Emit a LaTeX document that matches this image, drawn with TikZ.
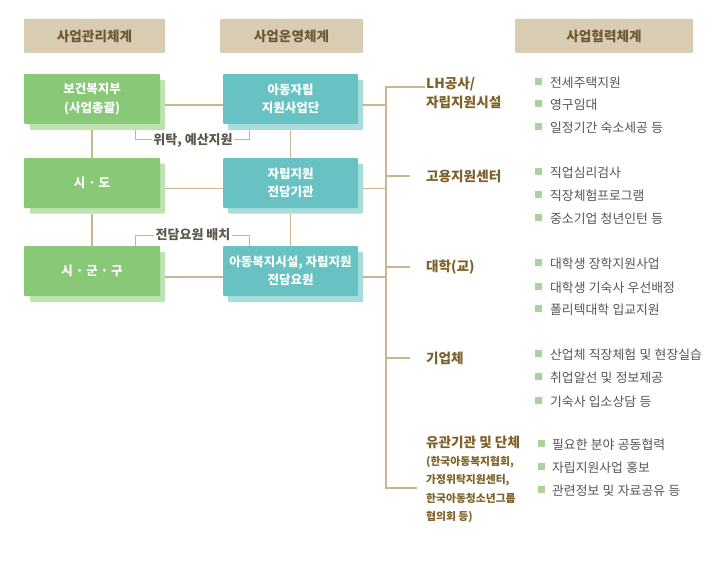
\documentclass[tikz,border=0pt]{standalone}
\usepackage{fontspec}
\setmainfont{Noto Sans CJK KR}
\newfontfamily\itemfont{Noto Sans CJK KR}[WordSpace=1.2]
\definecolor{hdrc}{HTML}{D8CCB3}
\definecolor{hdrtxt}{HTML}{6E5A35}
\definecolor{grf}{HTML}{88C876}
\definecolor{grs}{HTML}{BDE3B0}
\definecolor{tlf}{HTML}{68C2C3}
\definecolor{tls}{HTML}{A8DDDC}
\definecolor{linec}{HTML}{C9B58F}
\definecolor{labc}{HTML}{7D6128}
\definecolor{bulc}{HTML}{A9D39D}
\definecolor{itemc}{HTML}{555555}
\definecolor{brkc}{HTML}{5E584C}
\begin{document}
\begin{tikzpicture}[x=1pt,y=-1pt,
  hdr/.style={fill=hdrc, rounded corners=1pt, inner sep=0pt, minimum height=34pt, text=hdrtxt, font=\bfseries\fontsize{13.6}{15}\selectfont},
  gfront/.style={fill=grf, rounded corners=1pt, inner sep=0pt, minimum width=136pt, minimum height=50pt, text=white, align=center, font=\bfseries\fontsize{12.5}{18.5}\selectfont},
  gshadow/.style={fill=grs, rounded corners=1pt, inner sep=0pt, minimum width=135pt, minimum height=50pt},
  tfront/.style={fill=tlf, rounded corners=1pt, inner sep=0pt, minimum width=135pt, minimum height=50pt, text=white, align=center, font=\bfseries\fontsize{12.5}{18.5}\selectfont},
  tshadow/.style={fill=tls, rounded corners=1pt, inner sep=0pt, minimum width=135pt, minimum height=50pt},
  conn/.style={draw=linec, line width=1.6pt},
  brk/.style={draw=linec, line width=1pt},
  brklab/.style={inner sep=1.5pt, text=brkc, font=\bfseries\fontsize{13}{14}\selectfont},
  lab/.style={anchor=west, inner sep=0pt, text=labc, align=left, font=\bfseries\fontsize{13.6}{19}\selectfont},
  smalllab/.style={anchor=north west, inner sep=0pt, text=labc, align=left, font=\bfseries\fontsize{10.8}{18.5}\selectfont},
  bul/.style={fill=bulc, inner sep=0pt, minimum size=7pt},
  item/.style={anchor=west, inner sep=0pt, text=itemc, font=\itemfont\fontsize{12.8}{14}\selectfont}
]
\useasboundingbox (0,0) rectangle (720,575);
\fill[white] (0,0) rectangle (720,575);

% headers
\node[hdr, minimum width=141pt] (h1) at (94.5,36) {사업관리체계};
\node[hdr, minimum width=143pt] (h2) at (291.5,36) {사업운영체계};
\node[hdr, minimum width=178pt] (h3) at (604,36) {사업협력체계};

% green boxes
\node[gshadow] (g1s) at (97.5,105) {};
\node[gfront] (g1) at (92,99) {보건복지부\\(사업총괄)};
\node[gshadow] (g2s) at (97.5,188.5) {};
\node[gfront] (g2) at (92,183) {시 · 도};
\node[gshadow] (g3s) at (97.5,277) {};
\node[gfront] (g3) at (92,271) {시 · 군 · 구};

% teal boxes
\node[tshadow] (t1s) at (295.5,105) {};
\node[tfront] (t1) at (290.5,99) {아동자립\\지원사업단};
\node[tshadow] (t2s) at (295.5,188.5) {};
\node[tfront] (t2) at (290.5,183) {자립지원\\전담기관};
\node[tshadow] (t3s) at (295.5,277) {};
\node[tfront] (t3) at (290.5,271) {아동복지시설, 자립지원\\전담요원};

% horizontal connectors green-teal
\draw[conn] (g1s.east) -- (g1s.east -| t1.west);
\draw[conn] (g2s.east) -- (g2s.east -| t2.west);
\draw[conn] (g3s.east) -- (g3s.east -| t3.west);

% vertical connectors
\draw[conn] (g1s.south -| g1.south) -- (g2.north);
\draw[conn] (g2s.south -| g2.south) -- (g3.north);
\draw[conn] (t1s.south -| t1.south) -- (t2.north);
\draw[conn] (t2s.south -| t2.south) -- (t3.north);

% bracket labels
\node[brklab] (lb1) at (193,140) {위탁, 예산지원};
\coordinate (b1l) at (135,130);
\coordinate (b1r) at (249,130);
\draw[brk] (b1l) |- (lb1.west);
\draw[brk] (b1r) |- (lb1.east);
\node[brklab] (lb2) at (193,235) {전담요원 배치};
\coordinate (b2l) at (135,246);
\coordinate (b2r) at (249,246);
\draw[brk] (b2l) |- (lb2.west);
\draw[brk] (b2r) |- (lb2.east);

% bus
\coordinate (bustop) at (386,87);
\coordinate (busbot) at (386,488);
\draw[conn] (t1s.east) -- (t1s.east -| bustop);
\draw[conn] (t2s.east) -- (t2s.east -| bustop);
\draw[conn] (t3s.east) -- (t3s.east -| bustop);

% labels
\node[lab] (l1) at (426,92.5) {LH공사/\\자립지원시설};
\node[lab] (l2) at (426,176) {고용지원센터};
\node[lab] (l3) at (426,267) {대학(교)};
\node[lab] (l4) at (426,358) {기업체};
\node[lab, anchor=north west] (l5) at (426,436) {유관기관 및 단체};
\node[smalllab] (l5b) at (426,456) {(한국아동복지협회,\\가정위탁지원센터,\\한국아동청소년그룹\\협의회 등)};

\coordinate (e1) at (425,87);
\coordinate (e2) at (410,176);
\coordinate (e3) at (410,267);
\coordinate (e4) at (410,358);
\coordinate (e5) at (417,488);
\draw[conn] (e1) -- (bustop) -- (busbot) -- (e5);
\draw[conn] (bustop |- e2) -- (e2);
\draw[conn] (bustop |- e3) -- (e3);
\draw[conn] (bustop |- e4) -- (e4);

% bullet items
\foreach \y/\t in {83/전세주택지원, 105/영구임대, 128/일정기간 숙소세공 등,
                   173/직업심리검사, 196/직장체험프로그램, 219/중소기업 청년인턴 등,
                   264/대학생 장학지원사업, 288/대학생 기숙사 우선배정, 310/폴리텍대학 입교지원,
                   355/산업체 직장체험 및 현장실습, 378/취업알선 및 정보제공, 402/기숙사 입소상담 등}{
  \node[bul] at (538.5,\y-1.5) {};
  \node[item] at (550,\y) {\t};
}
\foreach \y/\t in {445/필요한 분야 공동협력, 468/자립지원사업 홍보, 491/관련정보 및 자료공유 등}{
  \node[bul] at (541,\y-1.5) {};
  \node[item] at (552,\y) {\t};
}
\end{tikzpicture}
\end{document}
